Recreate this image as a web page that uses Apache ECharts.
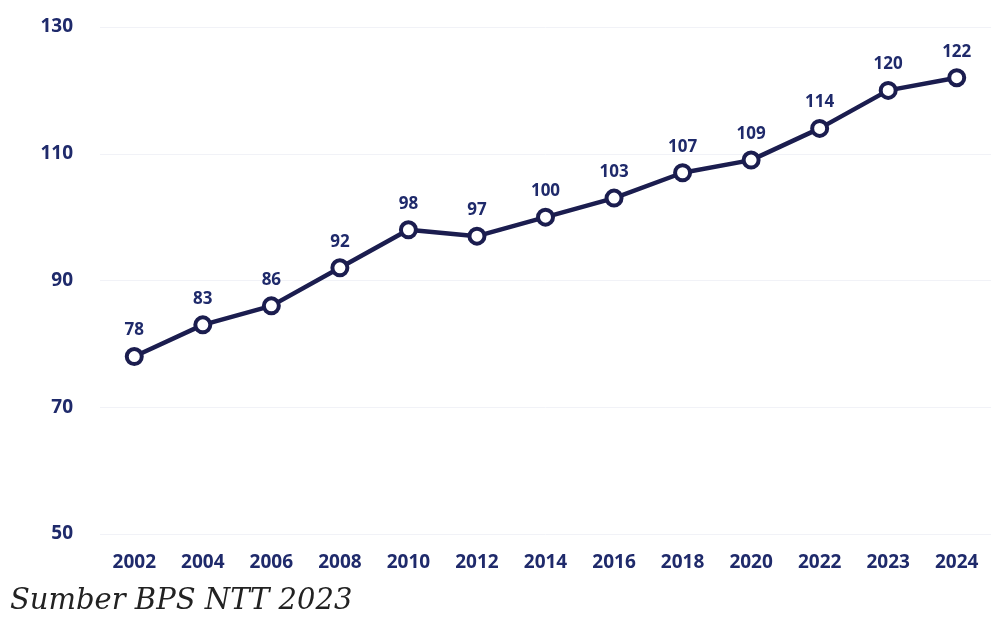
<!DOCTYPE html>
<html>
<head>
<meta charset="utf-8">
<script src="https://cdn.jsdelivr.net/npm/echarts@6/dist/echarts.min.js"></script>
<style>html,body{margin:0;padding:0;background:#ffffff;}#c{width:1002px;height:619px;}</style>
</head>
<body>
<div id="c"></div>
<script>
const years = ['2002','2004','2006','2008','2010','2012','2014','2016','2018','2020','2022','2023','2024'];
const values = [78, 83, 86, 92, 98, 97, 100, 103, 107, 109, 114, 120, 122];
const sourceText = 'Sumber BPS NTT 2023';

const navy = '#1f2a6b';
const chart = echarts.init(document.getElementById('c'));
chart.setOption({
  backgroundColor: '#ffffff',
  animation: false,
  title: {
    text: sourceText,
    left: 5,
    top: 582,
    textStyle: { fontFamily: 'DejaVu Serif', fontStyle: 'italic', fontWeight: 'normal', fontSize: 29, color: '#222222' }
  },
  grid: { left: 100, right: 11, top: 27, bottom: 85 },
  xAxis: {
    type: 'category',
    data: years,
    boundaryGap: true,
    axisLine: { show: false },
    axisTick: { show: false },
    axisLabel: { margin: 19, color: navy, fontFamily: 'Open Sans', fontWeight: 'bold', fontSize: 19 }
  },
  yAxis: {
    type: 'value',
    min: 50, max: 130, interval: 20,
    axisLine: { show: false },
    axisTick: { show: false },
    axisLabel: { margin: 27, color: navy, fontFamily: 'Open Sans', fontWeight: 'bold', fontSize: 19 },
    splitLine: { lineStyle: { color: '#f1f2f7', width: 1 } }
  },
  series: [{
    type: 'line',
    data: values,
    symbol: 'circle',
    symbolSize: 15,
    lineStyle: { color: '#1b1d4f', width: 4.5 },
    itemStyle: { color: '#ffffff', borderColor: '#1b1d4f', borderWidth: 4 },
    label: { show: true, position: 'top', distance: 8, color: navy, fontFamily: 'Open Sans', fontWeight: 'bold', fontSize: 17 }
  }]
});
</script>
</body>
</html>
